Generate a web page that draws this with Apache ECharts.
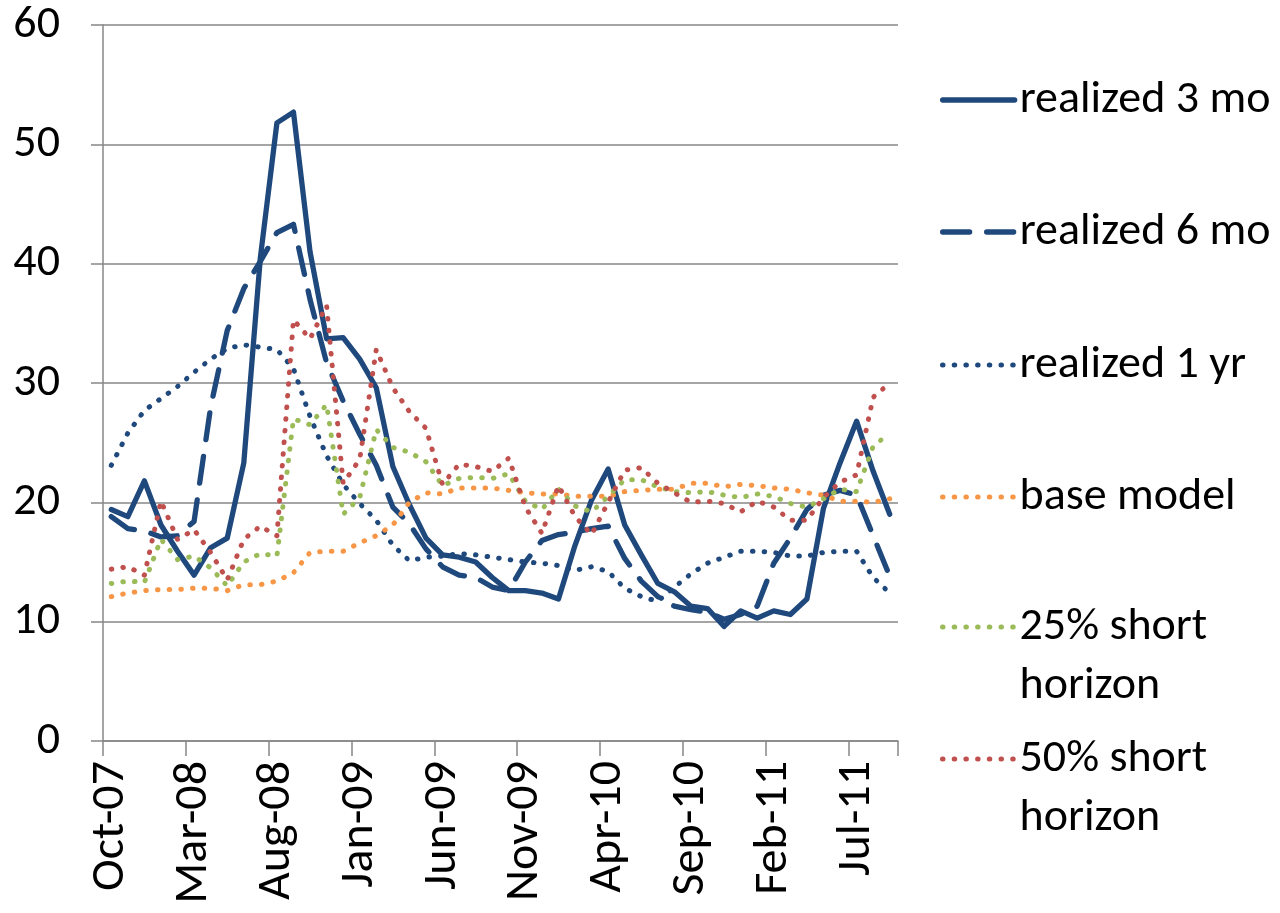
<!DOCTYPE html>
<html><head><meta charset="utf-8">
<script src="https://cdn.jsdelivr.net/npm/echarts@6/dist/echarts.min.js"></script>
<style>html,body{margin:0;padding:0;background:#fff}#c{width:1280px;height:913px}</style>
</head><body><div id="c"></div>
<script>
const months = ['Oct-07','Nov-07','Dec-07','Jan-08','Feb-08','Mar-08','Apr-08','May-08','Jun-08','Jul-08','Aug-08','Sep-08',
  'Oct-08','Nov-08','Dec-08','Jan-09','Feb-09','Mar-09','Apr-09','May-09','Jun-09','Jul-09','Aug-09','Sep-09',
  'Oct-09','Nov-09','Dec-09','Jan-10','Feb-10','Mar-10','Apr-10','May-10','Jun-10','Jul-10','Aug-10','Sep-10',
  'Oct-10','Nov-10','Dec-10','Jan-11','Feb-11','Mar-11','Apr-11','May-11','Jun-11','Jul-11','Aug-11','Sep-11'];

const realized3mo = [19.4, 18.8, 21.8, 18.1, 15.9, 13.9, 16.2, 17.0, 23.3, 40.5, 51.8, 52.7,
  41.0, 33.7, 33.8, 32.0, 29.6, 23.0, 19.8, 17.0, 15.6, 15.4, 15.0, 13.7,
  12.6, 12.6, 12.4, 11.9, 16.4, 20.2, 22.8, 18.1, 15.6, 13.2, 12.5, 11.3,
  11.1, 9.6, 10.9, 10.3, 10.9, 10.6, 11.9, 19.5, 23.3, 26.8, 22.6, 19.0];

const realized6mo = [18.8, 17.8, 17.6, 17.1, 17.2, 18.4, 28.0, 34.4, 37.9, 40.2, 42.6, 43.3,
  37.0, 31.7, 28.5, 25.7, 23.1, 19.6, 18.2, 16.1, 14.6, 13.9, 13.7, 12.9,
  12.6, 15.0, 16.8, 17.3, 17.5, 17.8, 18.0, 15.3, 13.4, 12.1, 11.3, 11.0,
  10.8, 10.2, 10.6, 11.3, 14.9, 17.0, 19.4, 20.6, 21.0, 20.6, 17.2, 13.8];

const realized1yr = [23.1, 25.8, 27.7, 28.7, 29.7, 30.9, 32.0, 32.9, 33.2, 33.0, 32.8, 31.2,
  27.2, 23.9, 21.5, 19.9, 18.5, 16.4, 15.1, 15.4, 15.5, 15.7, 15.6, 15.4,
  15.2, 15.0, 14.9, 14.7, 14.3, 14.6, 14.2, 12.8, 12.1, 11.7, 12.9, 14.0,
  14.9, 15.4, 15.9, 15.9, 15.8, 15.5, 15.5, 15.8, 15.9, 15.9, 13.7, 12.4];

const baseModel = [12.1, 12.4, 12.6, 12.7, 12.7, 12.8, 12.8, 12.6, 13.1, 13.1, 13.4, 14.1,
  15.8, 15.9, 15.9, 16.6, 17.2, 18.1, 20.0, 20.8, 20.7, 21.2, 21.2, 21.2,
  21.0, 20.8, 20.7, 20.7, 20.5, 20.5, 20.5, 20.9, 21.0, 21.1, 21.1, 21.6,
  21.6, 21.3, 21.5, 21.4, 21.2, 21.1, 20.8, 20.6, 20.1, 20.1, 20.0, 20.3];

const short25 = [13.2, 13.4, 13.3, 16.9, 15.2, 15.5, 14.5, 13.0, 15.0, 15.7, 15.5, 27.0,
  26.5, 28.2, 19.0, 20.4, 26.1, 24.6, 24.2, 23.4, 21.4, 22.0, 22.1, 22.0,
  22.4, 20.1, 19.4, 21.1, 19.7, 19.2, 20.5, 21.9, 21.9, 21.3, 20.9, 20.8,
  20.9, 20.6, 20.4, 20.7, 20.5, 19.9, 19.6, 20.3, 21.1, 20.9, 24.7, 25.8];

const short50 = [14.4, 14.6, 13.9, 20.1, 16.9, 17.7, 15.8, 13.5, 16.9, 18.0, 17.2, 35.3,
  33.7, 36.5, 21.6, 23.6, 32.8, 29.6, 27.6, 26.2, 21.5, 23.2, 23.0, 22.6,
  23.7, 19.6, 17.4, 21.4, 18.8, 17.3, 20.0, 22.7, 22.9, 21.6, 20.8, 20.0,
  20.1, 19.9, 19.2, 20.1, 19.6, 18.5, 18.5, 20.4, 21.7, 22.3, 28.8, 30.0];

const seriesNames = ['realized 3 mo', 'realized 6 mo', 'realized 1 yr', 'base model', '25% short horizon', '50% short horizon'];
const legendLines = [['realized 3 mo'], ['realized 6 mo'], ['realized 1 yr'], ['base model'], ['25% short', 'horizon'], ['50% short', 'horizon']];
const yTicks = [0, 10, 20, 30, 40, 50, 60];

const FONT = 'Carlito, Calibri, Lato, sans-serif';
const BLUE = '#1F497D', ORANGE = '#F79646', GREEN = '#9BBB59', RED = '#C0504D';
const GRAY = '#878787';
const DOT = [0.5, 11.2];
const DASH = [27, 17];

const styles = [
  {color: BLUE, type: 'solid', width: 5.3},
  {color: BLUE, type: DASH, width: 5.3},
  {color: BLUE, type: DOT, width: 5},
  {color: ORANGE, type: DOT, width: 5},
  {color: GREEN, type: DOT, width: 5},
  {color: RED, type: DOT, width: 5}
];
const dataSets = [realized3mo, realized6mo, realized1yr, baseModel, short25, short50];

const legendCenterY = [100, 232, 365, 497, 627, 759];
const FS = 46, FSX = 48;
const LH1 = 56, LH2 = 59;

const legends = seriesNames.map((n, i) => {
  const multi = legendLines[i].length > 1;
  // for two-line entries an empty first line keeps the icon level with the first text line
  const label = multi ? [' '].concat(legendLines[i]).join('\n') : legendLines[i][0];
  return {
    data: [n],
    left: 940,
    top: multi ? legendCenterY[i] - LH2 * 1.5 : legendCenterY[i] - LH1 / 2,
    orient: 'vertical',
    padding: 0,
    itemGap: 0,
    itemWidth: 72,
    itemHeight: 14,
    selectedMode: false,
    formatter: () => label,
    itemStyle: {opacity: 0},
    lineStyle: {width: styles[i].width},
    textStyle: {
      fontSize: FS, fontFamily: FONT, color: '#000',
      lineHeight: multi ? LH2 : LH1
    }
  };
});

const chart = echarts.init(document.getElementById('c'), null, {renderer: 'canvas'});
chart.setOption({
  animation: false,
  backgroundColor: '#fff',
  grid: {left: 103, right: 382, top: 25, bottom: 172, containLabel: false},
  legend: legends,
  xAxis: {
    type: 'category',
    data: months,
    boundaryGap: true,
    axisLine: {show: true, lineStyle: {color: GRAY, width: 1.5}},
    axisTick: {show: true, interval: (idx) => idx % 5 === 0, length: 15, lineStyle: {color: GRAY, width: 1.5}},
    axisLabel: {interval: 4, rotate: 90, margin: 20, fontSize: FSX, fontFamily: FONT, color: '#000'},
    splitLine: {show: false}
  },
  yAxis: {
    type: 'value',
    min: yTicks[0], max: yTicks[yTicks.length - 1], interval: 10,
    axisLine: {show: true, lineStyle: {color: GRAY, width: 1.5}},
    axisTick: {show: true, length: 12, lineStyle: {color: GRAY, width: 1.5}},
    axisLabel: {margin: 43, fontSize: FS, fontFamily: FONT, color: '#000'},
    splitLine: {show: true, lineStyle: {color: GRAY, width: 1.5}}
  },
  series: seriesNames.map((n, i) => ({
    name: n,
    type: 'line',
    data: dataSets[i],
    symbol: 'none',
    showSymbol: false,
    smooth: false,
    emphasis: {disabled: true},
    lineStyle: {color: styles[i].color, width: styles[i].width, type: styles[i].type, cap: 'round', join: 'round'},
    itemStyle: {color: styles[i].color},
    z: 2 + i
  }))
});
</script>
</body></html>
